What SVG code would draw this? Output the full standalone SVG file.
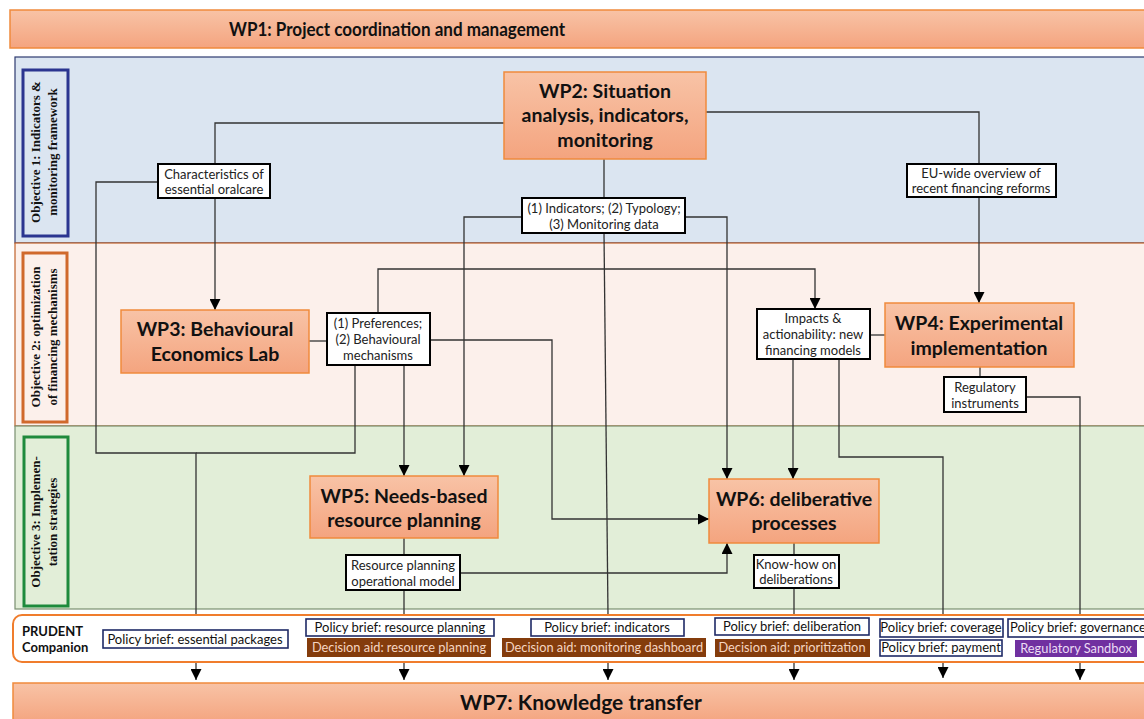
<svg xmlns="http://www.w3.org/2000/svg" width="1144" height="719" viewBox="0 0 1144 719">
<defs>
<linearGradient id="wpg" x1="0" y1="0" x2="0" y2="1">
<stop offset="0" stop-color="#f8c3a6"/>
<stop offset="1" stop-color="#f4a47f"/>
</linearGradient>
<marker id="ah" viewBox="0 0 10 10" refX="10" refY="5" markerWidth="11" markerHeight="11" markerUnits="userSpaceOnUse" orient="auto">
<path d="M0,0 L10,5 L0,10 z" fill="#000"/>
</marker>
<style>
.wp{fill:url(#wpg);stroke:#f08a3c;stroke-width:1.5}
.wpt{font-family:Lato,"Open Sans",sans-serif;font-weight:bold;font-size:19.5px;fill:#111;text-anchor:middle}
.lb{fill:#fff;stroke:#000;stroke-width:2}
.lbt{font-family:Lato,"Open Sans",sans-serif;font-size:13px;fill:#222;text-anchor:middle}
.pb{fill:#fff;stroke:#1f2a66;stroke-width:1.6}
.pbt{font-family:Lato,"Open Sans",sans-serif;font-size:13px;fill:#111;text-anchor:middle}
.da{fill:#843c0c}
.dat{font-family:Lato,"Open Sans",sans-serif;font-size:12.8px;fill:#f6d6c2;text-anchor:middle}
.obt{font-family:"Liberation Serif",serif;font-weight:bold;font-size:13px;fill:#111;text-anchor:middle}
.cn{fill:none;stroke:#333;stroke-width:1.3}
.ar{marker-end:url(#ah)}
</style>
</defs>

<!-- lanes -->
<g id="lanes">
<rect x="15" y="57" width="1140" height="186" fill="#dbe5f1" stroke="#2e3a70" stroke-width="1.2"/>
<rect x="15" y="243" width="1140" height="183" fill="#fcf0eb" stroke="#c0622a" stroke-width="1.2"/>
<rect x="15" y="426" width="1140" height="183" fill="#e2eed8" stroke="#7a8f70" stroke-width="1.2"/>
</g>

<g id="obj1">
<rect x="23" y="70" width="45" height="166" fill="#dbe5f1" stroke="#2b3590" stroke-width="3"/>
<text class="obt" transform="translate(40,152) rotate(-90)">Objective 1: Indicators &amp;</text>
<text class="obt" transform="translate(57,152) rotate(-90)">monitoring framework</text>
</g>
<g id="obj2">
<rect x="23" y="253" width="44" height="169" fill="#fcf0eb" stroke="#d0692c" stroke-width="3"/>
<text class="obt" transform="translate(40,337) rotate(-90)">Objective 2: optimization</text>
<text class="obt" transform="translate(57,337) rotate(-90)">of financing mechanisms</text>
</g>
<g id="obj3">
<rect x="24" y="437" width="44" height="169" fill="#e2eed8" stroke="#1e8a3c" stroke-width="3"/>
<text class="obt" transform="translate(40,522) rotate(-90)">Objective 3: Implemen-</text>
<text class="obt" transform="translate(57,522) rotate(-90)">tation strategies</text>
</g>

<!-- WP1 -->
<g id="wp1">
<rect class="wp" x="10" y="10" width="1145" height="38"/>
<text x="397" y="36" font-family="Lato,'Open Sans',sans-serif" font-weight="bold" font-size="19" fill="#111" text-anchor="middle" textLength="336" lengthAdjust="spacingAndGlyphs">WP1: Project coordination and management</text>
</g>

<!-- connectors -->
<g id="connectors">
<path class="cn" d="M504,123 H215 V164"/>
<path class="cn ar" d="M215,198 V310"/>
<path class="cn" d="M158,182 H96 V453 H196 V615"/>
<path class="cn" d="M355,365 V453 H196"/>
<path class="cn" d="M706,112 H979 V164"/>
<path class="cn ar" d="M979,197 V303"/>
<path class="cn" d="M604,159 V198"/>
<path class="cn" d="M604,233 L608,615"/>
<path class="cn ar" d="M522,217 H464 V476"/>
<path class="cn ar" d="M685,217 H727 V479"/>
<path class="cn" d="M309,341 H327"/>
<path class="cn ar" d="M378,313 V269 H815 V309"/>
<path class="cn ar" d="M430,340 H552 V519 H709"/>
<path class="cn ar" d="M404,365 V476"/>
<path class="cn" d="M870,335 H885"/>
<path class="cn ar" d="M793,359 V479"/>
<path class="cn" d="M839,359 V457 H943 V615"/>
<path class="cn" d="M980,367 V377"/>
<path class="cn" d="M1026,397 H1080 V615"/>
<path class="cn" d="M404,538 V555"/>
<path class="cn" d="M404,590 V615"/>
<path class="cn ar" d="M460,573 H727 V543"/>
<path class="cn" d="M794,543 V555"/>
<path class="cn" d="M794,588 V615"/>
<path class="cn ar" d="M196,662 V680"/>
<path class="cn ar" d="M404,662 V680"/>
<path class="cn ar" d="M608,662 V680"/>
<path class="cn ar" d="M794,662 V680"/>
<path class="cn ar" d="M943,662 V678"/>
<path class="cn ar" d="M1080,662 V680"/>
</g>

<!-- WP boxes -->
<g id="wp2">
<rect class="wp" x="504" y="72" width="202" height="87"/>
<text class="wpt" x="605" y="98">WP2: Situation</text>
<text class="wpt" x="605" y="122">analysis, indicators,</text>
<text class="wpt" x="605" y="147">monitoring</text>
</g>
<g id="wp3">
<rect class="wp" x="121" y="310" width="188" height="63"/>
<text class="wpt" x="215" y="336">WP3: Behavioural</text>
<text class="wpt" x="215" y="361">Economics Lab</text>
</g>
<g id="wp4">
<rect class="wp" x="885" y="303" width="189" height="64"/>
<text class="wpt" x="979" y="330">WP4: Experimental</text>
<text class="wpt" x="979" y="355">implementation</text>
</g>
<g id="wp5">
<rect class="wp" x="310" y="476" width="188" height="62"/>
<text class="wpt" x="404" y="503">WP5: Needs-based</text>
<text class="wpt" x="404" y="527">resource planning</text>
</g>
<g id="wp6">
<rect class="wp" x="709" y="479" width="170" height="64"/>
<text class="wpt" x="794" y="506">WP6: deliberative</text>
<text class="wpt" x="794" y="530">processes</text>
</g>

<!-- label boxes -->
<g id="lbl-characteristics">
<rect class="lb" x="158" y="164" width="112" height="34"/>
<text class="lbt" x="214" y="179">Characteristics of</text>
<text class="lbt" x="214" y="194">essential oralcare</text>
</g>
<g id="lbl-euwide">
<rect class="lb" x="907" y="164" width="149" height="33"/>
<text class="lbt" x="981" y="178">EU-wide overview of</text>
<text class="lbt" x="981" y="193">recent financing reforms</text>
</g>
<g id="lbl-indicators">
<rect class="lb" x="522" y="198" width="163" height="35"/>
<text class="lbt" x="604" y="213">(1) Indicators; (2) Typology;</text>
<text class="lbt" x="604" y="229">(3) Monitoring data</text>
</g>
<g id="lbl-preferences">
<rect class="lb" x="327" y="313" width="103" height="52"/>
<text class="lbt" x="378" y="328">(1) Preferences;</text>
<text class="lbt" x="378" y="344">(2) Behavioural</text>
<text class="lbt" x="378" y="360">mechanisms</text>
</g>
<g id="lbl-impacts">
<rect class="lb" x="757" y="309" width="113" height="50"/>
<text class="lbt" x="813" y="323">Impacts &amp;</text>
<text class="lbt" x="813" y="339">actionability: new</text>
<text class="lbt" x="813" y="355">financing models</text>
</g>
<g id="lbl-regulatory">
<rect class="lb" x="944" y="377" width="82" height="35"/>
<text class="lbt" x="985" y="392">Regulatory</text>
<text class="lbt" x="985" y="408">instruments</text>
</g>
<g id="lbl-resource">
<rect class="lb" x="346" y="555" width="114" height="35"/>
<text class="lbt" x="403" y="570">Resource planning</text>
<text class="lbt" x="403" y="586">operational model</text>
</g>
<g id="lbl-knowhow">
<rect class="lb" x="754" y="555" width="85" height="33"/>
<text class="lbt" x="796" y="569">Know-how on</text>
<text class="lbt" x="796" y="584">deliberations</text>
</g>

<!-- companion -->
<g id="companion">
<rect x="13" y="615" width="1145" height="47" rx="9" fill="#fff" stroke="#f07d2d" stroke-width="2"/>
<text x="22" y="636" font-family="Lato,'Open Sans',sans-serif" font-weight="bold" font-size="13" fill="#111">PRUDENT</text>
<text x="22" y="652" font-family="Lato,'Open Sans',sans-serif" font-weight="bold" font-size="13" fill="#111">Companion</text>
<rect class="pb" x="103" y="630" width="185" height="18"/>
<text class="pbt" x="195" y="644">Policy brief: essential packages</text>
<rect class="pb" x="306" y="619" width="188" height="17"/>
<text class="pbt" x="400" y="632">Policy brief: resource planning</text>
<rect class="da" x="307" y="638" width="184" height="19"/>
<text class="dat" x="399" y="652">Decision aid: resource planning</text>
<rect class="pb" x="531" y="619" width="153" height="17"/>
<text class="pbt" x="607" y="632">Policy brief: indicators</text>
<rect class="da" x="502" y="638" width="204" height="19"/>
<text class="dat" x="604" y="652">Decision aid: monitoring dashboard</text>
<rect class="pb" x="715" y="618" width="154" height="17"/>
<text class="pbt" x="792" y="631">Policy brief: deliberation</text>
<rect class="da" x="715" y="639" width="155" height="18"/>
<text class="dat" x="792" y="652">Decision aid: prioritization</text>
<rect class="pb" x="880" y="619" width="123" height="18"/>
<text class="pbt" x="941" y="632">Policy brief: coverage</text>
<rect class="pb" x="880" y="640" width="122" height="16"/>
<text class="pbt" x="941" y="652">Policy brief: payment</text>
<rect class="pb" x="1008" y="619" width="150" height="18"/>
<text class="pbt" x="1010" y="632" style="text-anchor:start">Policy brief: governance</text>
<rect x="1015" y="640" width="122" height="17" fill="#7030a0"/>
<text x="1076" y="653" font-family="Lato,'Open Sans',sans-serif" font-size="12.8" fill="#ecdcf5" text-anchor="middle">Regulatory Sandbox</text>
</g>

<!-- WP7 -->
<g id="wp7">
<rect class="wp" x="13" y="683" width="1145" height="40"/>
<text x="581" y="710" font-family="Lato,'Open Sans',sans-serif" font-weight="bold" font-size="21" fill="#111" text-anchor="middle">WP7: Knowledge transfer</text>
</g>
</svg>
